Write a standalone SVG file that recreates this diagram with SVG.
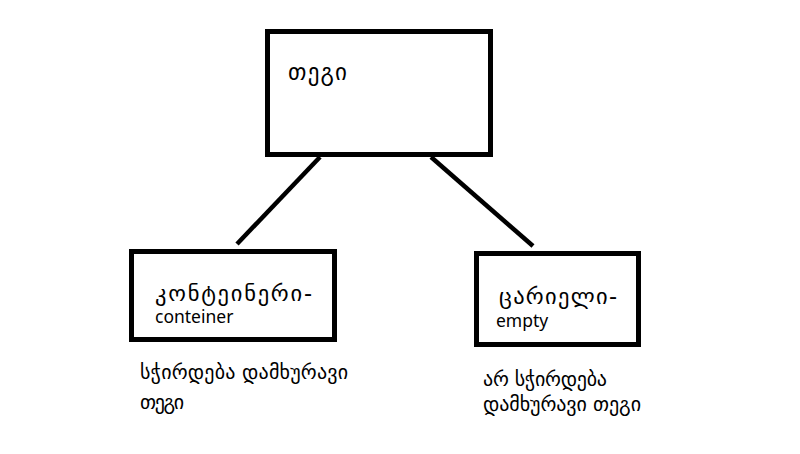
<svg xmlns="http://www.w3.org/2000/svg" width="800" height="454" viewBox="0 0 800 454">
<style>
.box{fill:#fff;stroke:#000;stroke-width:5}
.ln{stroke:#000;stroke-width:4.5;stroke-linecap:butt}
.ka{font-family:"DejaVu Sans","Noto Sans",sans-serif;fill:#000}
.en{font-family:"Noto Sans","Open Sans",sans-serif;fill:#000}
</style>
<rect width="800" height="454" fill="#fff"/>
<g id="connectors">
<line class="ln" x1="320" y1="157" x2="237" y2="244"/>
<line class="ln" x1="431" y1="157" x2="533" y2="246"/>
</g>
<g id="tag">
<rect class="box" x="267.5" y="31.5" width="223" height="123"/>
<text class="ka" x="288" y="80" font-size="23" textLength="59" lengthAdjust="spacing">თეგი</text>
</g>
<g id="container">
<rect class="box" x="131.5" y="251.5" width="203" height="88"/>
<text class="ka" x="155" y="301" font-size="22.5" textLength="157" lengthAdjust="spacing">კონტეინერი-</text>
<text class="en" x="155" y="323" font-size="17.5">conteiner</text>
</g>
<g id="empty">
<rect class="box" x="476.5" y="253.5" width="162" height="91"/>
<text class="ka" x="499" y="304" font-size="22.5" textLength="118" lengthAdjust="spacing">ცარიელი-</text>
<text class="en" x="496" y="327" font-size="17.5">empty</text>
</g>
<g id="container-note">
<text class="ka" x="140" y="379" font-size="20" textLength="208" lengthAdjust="spacing">სჭირდება დამხურავი</text>
<text class="ka" x="140" y="409" font-size="20" textLength="44" lengthAdjust="spacing">თეგი</text>
</g>
<g id="empty-note">
<text class="ka" x="483" y="386" font-size="20" textLength="124" lengthAdjust="spacing">არ სჭირდება</text>
<text class="ka" x="483" y="411" font-size="20" textLength="158" lengthAdjust="spacing">დამხურავი თეგი</text>
</g>
</svg>
